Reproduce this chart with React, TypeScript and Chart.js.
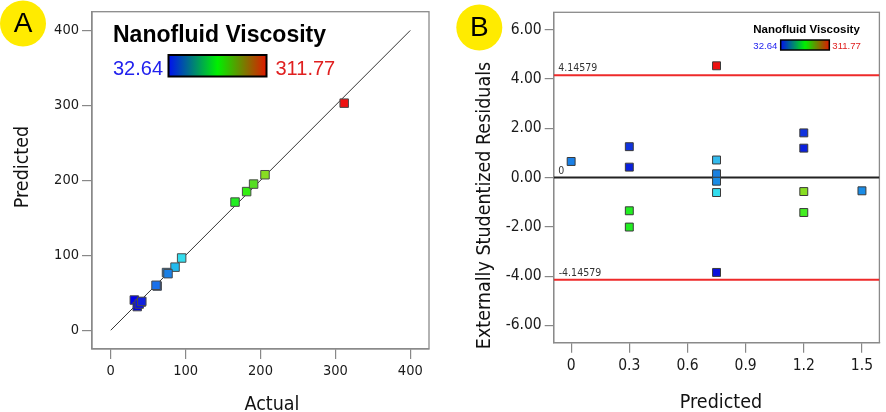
import React, { useEffect, useRef } from 'react';
import { Chart, registerables } from 'chart.js';

Chart.register(...registerables);

const FONT = '"DejaVu Sans Condensed", "DejaVu Sans", sans-serif';
const LEG = '"Liberation Sans", Arial, sans-serif';

// ---------- Panel A: Predicted vs Actual ----------
const actualA = [311.77, 166, 181.5, 190.8, 206, 94.7, 85.9, 74.5, 76.5, 62, 60.5, 31.5, 40.8, 35.4, 38, 41.5];
const predictedA = [303, 171, 185, 195, 207.5, 96.4, 84.2, 77, 75.5, 59, 60, 40.3, 37.7, 31.6, 35, 38.5];
const colorsA = [
  '#ee1111', '#22ee22', '#33ee11', '#55dd22', '#88dd22',
  '#33ddee', '#22bbee', '#1a8ce6', '#1a80e6', '#1a66ee', '#1a70ea',
  '#0000ee', '#0a14e0', '#0000dd', '#0a10e6', '#1020dd',
];
const diagonalA = [0, 400];
const ticksA = [0, 100, 200, 300, 400];

// ---------- Panel B: Externally Studentized Residuals vs Predicted ----------
const predictedB = [0, 0.3, 0.3, 0.3, 0.3, 0.75, 0.75, 0.75, 0.75, 0.75, 0.75, 1.2, 1.2, 1.2, 1.2, 1.5];
const residualsB = [0.65, 1.25, 0.42, -1.35, -2.01, 4.53, 0.71, 0.15, -0.15, -0.61, -3.85, 1.81, 1.19, -0.57, -1.42, -0.54];
const colorsB = [
  '#1a80e6', '#1133dd', '#0a20dd', '#22ee22', '#22ee22',
  '#ee1111', '#33bbee', '#1a80e0', '#1a8ce6', '#33ddee', '#0a10dd',
  '#1133dd', '#0a20dd', '#88dd22', '#44ee22', '#1a8ce6',
];
const limitB = 4.14579;
const xRangeB = [-0.09, 1.59];
const ticksBX = [0, 0.3, 0.6, 0.9, 1.2, 1.5];
const ticksBY = [-6, -4, -2, 0, 2, 4, 6];

const legendTitle = 'Nanofluid Viscosity';
const legendMin = '32.64';
const legendMax = '311.77';

function frame(chart: any) {
  const { ctx, chartArea } = chart;
  const { left, top, right, bottom } = chartArea;
  ctx.save();
  ctx.strokeStyle = '#8a8a8a';
  ctx.lineWidth = 1.3;
  ctx.strokeRect(left, top, right - left, bottom - top);
  ctx.restore();
}

function badge(ctx: CanvasRenderingContext2D, x: number, y: number, letter: string) {
  ctx.save();
  ctx.fillStyle = '#ffeb00';
  ctx.beginPath();
  ctx.arc(x, y, 23, 0, Math.PI * 2);
  ctx.fill();
  ctx.fillStyle = '#000';
  ctx.font = '28px ' + LEG;
  ctx.textAlign = 'center';
  ctx.textBaseline = 'middle';
  ctx.fillText(letter, x, y + 1);
  ctx.restore();
}

function legend(ctx: CanvasRenderingContext2D, o: any) {
  ctx.save();
  ctx.fillStyle = '#000';
  ctx.font = 'bold ' + o.titleSize + 'px ' + LEG;
  ctx.textAlign = 'left';
  ctx.textBaseline = 'alphabetic';
  ctx.fillText(legendTitle, o.x, o.titleY);
  ctx.font = o.numSize + 'px ' + LEG;
  ctx.fillStyle = '#2222ee';
  ctx.fillText(legendMin, o.x, o.numY);
  const g = ctx.createLinearGradient(o.barX, 0, o.barX + o.barW, 0);
  g.addColorStop(0, '#0010f0');
  g.addColorStop(0.5, '#00f000');
  g.addColorStop(1, '#e01800');
  ctx.fillStyle = g;
  ctx.fillRect(o.barX, o.barY, o.barW, o.barH);
  ctx.strokeStyle = '#000';
  ctx.lineWidth = o.bw;
  ctx.strokeRect(o.barX, o.barY, o.barW, o.barH);
  ctx.fillStyle = '#e02020';
  ctx.fillText(legendMax, o.maxX, o.numY);
  ctx.restore();
}

function vTitle(ctx: CanvasRenderingContext2D, text: string, x: number, y: number) {
  ctx.save();
  ctx.translate(x, y);
  ctx.rotate(-Math.PI / 2);
  ctx.font = '19.5px ' + FONT;
  ctx.fillStyle = '#111';
  ctx.textAlign = 'center';
  ctx.textBaseline = 'alphabetic';
  ctx.fillText(text, 0, 0);
  ctx.restore();
}

function hTitle(ctx: CanvasRenderingContext2D, text: string, x: number, y: number) {
  ctx.save();
  ctx.font = '19.5px ' + FONT;
  ctx.fillStyle = '#111';
  ctx.textAlign = 'center';
  ctx.textBaseline = 'alphabetic';
  ctx.fillText(text, x, y);
  ctx.restore();
}

function axisOpts(opts: any) {
  return {
    type: 'linear',
    min: opts.min,
    max: opts.max,
    afterBuildTicks: (s: any) => {
      s.ticks = opts.ticks.map((v: number) => ({ value: v }));
    },
    afterFit: (s: any) => {
      if (opts.width) s.width = opts.width;
      if (opts.height) s.height = opts.height;
    },
    grid: {
      drawOnChartArea: false,
      drawTicks: true,
      tickLength: opts.tickLength,
      color: '#888',
      tickColor: '#888',
      lineWidth: 1.2,
    },
    border: { display: true, color: '#8a8a8a', width: 1.3 },
    ticks: {
      font: { family: FONT, size: opts.size },
      color: '#1a1a1a',
      padding: opts.padding,
      maxRotation: 0,
      autoSkip: false,
      callback: opts.fmt,
    },
  };
}

function ChartA() {
  const ref = useRef<HTMLCanvasElement>(null);
  useEffect(() => {
    const deco = {
      id: 'decoA',
      beforeDatasetsDraw(chart: any) {
        frame(chart);
      },
      afterDraw(chart: any) {
        const ctx = chart.ctx;
        badge(ctx, 23, 23.5, 'A');
        legend(ctx, {
          x: 113, titleY: 42, titleSize: 23, numSize: 20, numY: 75,
          barX: 168.5, barY: 55, barW: 98, barH: 21.5, bw: 2, maxX: 275.5,
        });
        vTitle(ctx, 'Predicted', 28, 167);
        hTitle(ctx, 'Actual', 272, 410);
      },
    };
    const chart = new Chart(ref.current as HTMLCanvasElement, {
      type: 'scatter',
      data: {
        datasets: [
          {
            data: actualA.map((x, i) => ({ x, y: predictedA[i] })),
            backgroundColor: colorsA,
            borderColor: '#4a4a4a',
            borderWidth: 1,
            pointStyle: 'rect',
            pointRadius: 6,
          },
          {
            data: diagonalA.map((v) => ({ x: v, y: v })),
            showLine: true,
            borderColor: '#333',
            borderWidth: 1,
            pointRadius: 0,
            fill: false,
          },
        ],
      } as any,
      options: {
        animation: false,
        responsive: false,
        maintainAspectRatio: false,
        layout: { padding: { top: 7, right: 14, left: 0, bottom: 0 } },
        plugins: { legend: { display: false }, tooltip: { enabled: false } },
        scales: {
          x: axisOpts({ min: -25, max: 425, ticks: ticksA, height: 63, tickLength: 10, padding: 4, size: 14.5, fmt: (v: any) => String(v) }),
          y: axisOpts({ min: -25, max: 425, ticks: ticksA, width: 92, tickLength: 10, padding: 3, size: 14.5, fmt: (v: any) => String(v) }),
        } as any,
      },
      plugins: [deco],
    });
    return () => chart.destroy();
  }, []);
  return <canvas ref={ref} width={443} height={412} style={{ position: 'absolute', left: 0, top: 0 }} />;
}

function ChartB() {
  const ref = useRef<HTMLCanvasElement>(null);
  useEffect(() => {
    const deco = {
      id: 'decoB',
      beforeDatasetsDraw(chart: any) {
        frame(chart);
      },
      afterDraw(chart: any) {
        const ctx = chart.ctx;
        const y = chart.scales.y;
        const left = chart.chartArea.left;
        ctx.save();
        ctx.font = '10.5px ' + FONT;
        ctx.fillStyle = '#333';
        ctx.textAlign = 'left';
        ctx.textBaseline = 'alphabetic';
        ctx.fillText(String(limitB), left + 4.5, y.getPixelForValue(limitB) - 4);
        ctx.fillText('0', left + 4.5, y.getPixelForValue(0) - 4);
        ctx.fillText('-' + String(limitB), left + 5, y.getPixelForValue(-limitB) - 4);
        ctx.restore();
        badge(ctx, 36.3, 27.5, 'B');
        legend(ctx, {
          x: 310.3, titleY: 33, titleSize: 11.5, numSize: 9.6, numY: 49,
          barX: 337.7, barY: 40, barW: 48.6, barH: 10, bw: 1.5, maxX: 389.3,
        });
        vTitle(ctx, 'Externally Studentized Residuals', 47, 205.5);
        hTitle(ctx, 'Predicted', 278, 407.5);
      },
    };
    const chart = new Chart(ref.current as HTMLCanvasElement, {
      type: 'scatter',
      data: {
        datasets: [
          {
            data: predictedB.map((x, i) => ({ x, y: residualsB[i] })),
            backgroundColor: colorsB,
            borderColor: '#3a3a3a',
            borderWidth: 1,
            pointStyle: 'rect',
            pointRadius: 5.6,
          },
          {
            data: xRangeB.map((x) => ({ x, y: 0 })),
            showLine: true,
            borderColor: '#222',
            borderWidth: 2,
            pointRadius: 0,
          },
          {
            data: xRangeB.map((x) => ({ x, y: limitB })),
            showLine: true,
            borderColor: '#ee2a2a',
            borderWidth: 2,
            pointRadius: 0,
          },
          {
            data: xRangeB.map((x) => ({ x, y: -limitB })),
            showLine: true,
            borderColor: '#ee2a2a',
            borderWidth: 2,
            pointRadius: 0,
          },
        ],
      } as any,
      options: {
        animation: false,
        responsive: false,
        maintainAspectRatio: false,
        layout: { padding: { top: 9.3, right: 1.3, left: 0, bottom: 0 } },
        plugins: { legend: { display: false }, tooltip: { enabled: false } },
        scales: {
          x: axisOpts({ min: xRangeB[0], max: xRangeB[1], ticks: ticksBX, height: 69.3, tickLength: 10, padding: 4, size: 15.5, fmt: (v: any) => String(v) }),
          y: axisOpts({ min: -6.7, max: 6.7, ticks: ticksBY, width: 110.7, tickLength: 9, padding: 3, size: 15.5, fmt: (v: any) => Number(v).toFixed(2) }),
        } as any,
      },
      plugins: [deco],
    });
    return () => chart.destroy();
  }, []);
  return <canvas ref={ref} width={443} height={412} style={{ position: 'absolute', left: 443, top: 0 }} />;
}

export default function App() {
  return (
    <div style={{ position: 'fixed', left: 0, top: 0, width: 886, height: 412, background: '#fff', overflow: 'hidden' }}>
      <ChartA />
      <ChartB />
    </div>
  );
}
